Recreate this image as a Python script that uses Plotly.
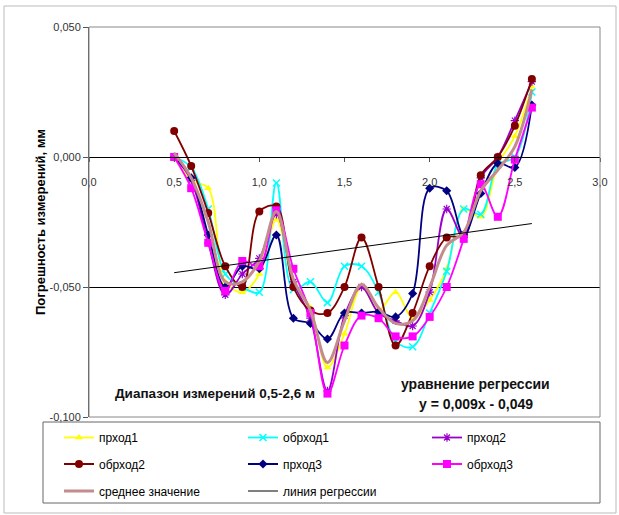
import plotly.graph_objects as go

x_vals = [0.5, 0.6, 0.7, 0.8, 0.9, 1.0, 1.1, 1.2, 1.3, 1.4, 1.5, 1.6, 1.7, 1.8, 1.9, 2.0, 2.1, 2.2, 2.3, 2.4, 2.5, 2.6]

prohod1 = [0.000, -0.009, -0.012, -0.048, -0.052, -0.045, -0.024, -0.048, -0.058, -0.081, -0.068, -0.050, -0.059, -0.052, -0.062, -0.055, -0.043, -0.020, -0.023, -0.003, 0.008, 0.027]
obrhod1 = [0.000, -0.004, -0.020, -0.045, -0.050, -0.052, -0.010, -0.051, -0.048, -0.056, -0.042, -0.042, -0.052, -0.071, -0.073, -0.060, -0.044, -0.020, -0.022, -0.003, 0.000, 0.025]
prohod2 = [0.000, -0.009, -0.033, -0.053, -0.045, -0.039, -0.022, -0.048, -0.062, -0.090, -0.061, -0.050, -0.060, -0.063, -0.065, -0.052, -0.020, -0.031, -0.008, 0.000, 0.014, 0.029]
obrhod2 = [0.010, -0.0035, -0.0215, -0.042, -0.050, -0.021, -0.019, -0.050, -0.059, -0.060, -0.050, -0.031, -0.050, -0.0725, -0.060, -0.042, -0.031, -0.030, -0.007, 0.000, 0.012, 0.030]
prohod3 = [0.000, -0.008, -0.030, -0.050, -0.042, -0.043, -0.030, -0.062, -0.064, -0.070, -0.060, -0.060, -0.0595, -0.0615, -0.0525, -0.012, -0.013, -0.030, -0.014, -0.0025, -0.004, 0.020]
obrhod3 = [0.000, -0.012, -0.033, -0.0515, -0.040, -0.042, -0.0205, -0.043, -0.060, -0.091, -0.0725, -0.061, -0.062, -0.069, -0.069, -0.0615, -0.050, -0.0315, -0.0105, -0.023, -0.001, 0.019]
average = [0.0015, -0.008, -0.025, -0.048, -0.048, -0.040, -0.021, -0.047, -0.059, -0.079, -0.063, -0.049, -0.058, -0.064, -0.063, -0.050, -0.034, -0.029, -0.013, -0.005, 0.004, 0.026]

reg_x = [0.5, 2.6]
reg_y = [-0.0445, -0.0256]

series_names = ["прход1", "обрход1", "прход2", "обрход2", "прход3", "обрход3", "среднее значение", "линия регрессии"]

x_ticks = [0, 0.5, 1.0, 1.5, 2.0, 2.5, 3.0]
x_ticklabels = ["0,0", "0,5", "1,0", "1,5", "2,0", "2,5", "3,0"]
y_ticks = [-0.1, -0.05, 0.0, 0.05]
y_ticklabels = ["-0,100", "-0,050", "0,000", "0,050"]

y_title = "Погрешность измерений, мм"
note_range = "Диапазон измерений 0,5-2,6 м"
note_reg1 = "уравнение регрессии"
note_reg2 = "y = 0,009x - 0,049"

FONT = "Liberation Sans, Arial, sans-serif"

W, H = 619, 515
L, R, T, B = 89, 19, 27, 98
PW, PH = W - L - R, H - T - B


def px_x(p):
    return (p - L) / PW


def px_y(p):
    return (H - B - p) / PH


fig = go.Figure()

styles = [
    ("#FFFF00", dict(symbol="triangle-up", size=7, color="#FFFF00")),
    ("#00FFFF", dict(symbol="x-thin-open", size=7, color="#00FFFF", line=dict(color="#00FFFF", width=1.5))),
    ("#9900CC", dict(symbol="asterisk-open", size=7, color="#9900CC", line=dict(color="#9900CC", width=1.2))),
    ("#800000", dict(symbol="circle", size=8, color="#800000")),
    ("#000080", dict(symbol="diamond", size=7, color="#000080")),
    ("#FF00FF", dict(symbol="square", size=8, color="#FF00FF")),
]
series_vals = [prohod1, obrhod1, prohod2, obrhod2, prohod3, obrhod3]

# legend slot for each entry: (left pixel of line sample, row centre pixel)
col_px = [64, 248, 432]
row_px = [437.5, 464, 491]
slots = [(c, r) for r in row_px for c in col_px]
legend_ids = ["legend"] + ["legend%d" % (i + 2) for i in range(7)]

for i, (vals, (col, mk), name) in enumerate(zip(series_vals, styles, series_names[:6])):
    fig.add_trace(go.Scatter(
        x=x_vals, y=vals, name=name, mode="lines+markers",
        line=dict(color=col, width=1.8, shape="spline", smoothing=1.0),
        marker=mk, legend=legend_ids[i],
    ))

fig.add_trace(go.Scatter(
    x=x_vals, y=average, name=series_names[6], mode="lines",
    line=dict(color="#C48C8C", width=3, shape="spline", smoothing=1.0),
    legend=legend_ids[6],
))
fig.add_trace(go.Scatter(
    x=reg_x, y=reg_y, name=series_names[7], mode="lines",
    line=dict(color="#000000", width=1), legend=legend_ids[7],
))

legend_layout = {}
for lid, (cx, cy) in zip(legend_ids, slots):
    legend_layout[lid] = dict(
        x=px_x(cx - 5), xanchor="left", y=px_y(cy), yanchor="middle",
        orientation="v", font=dict(family=FONT, size=12, color="#000000"),
        bgcolor="rgba(0,0,0,0)", borderwidth=0,
    )

fig.update_layout(
    width=W, height=H,
    margin=dict(l=L, r=R, t=T, b=B, autoexpand=False),
    paper_bgcolor="white", plot_bgcolor="white",
    font=dict(family=FONT, size=11, color="#222222"),
    showlegend=True,
    xaxis=dict(
        range=[0, 3], tickvals=x_ticks, ticktext=x_ticklabels,
        anchor="free", position=2/3,
        showline=True, linecolor="#000000", linewidth=1,
        ticks="outside", ticklen=4, tickcolor="#555555",
        showgrid=False, zeroline=False, ticklabelstandoff=11,
        tickfont=dict(family=FONT, size=11, color="#333333"),
    ),
    yaxis=dict(
        range=[-0.1, 0.05], tickvals=y_ticks, ticktext=y_ticklabels,
        showline=True, linecolor="#555555", linewidth=1,
        ticks="outside", ticklen=5, tickcolor="#555555",
        showgrid=True, gridcolor="#000000", gridwidth=1, zeroline=False,
        tickfont=dict(family=FONT, size=11, color="#333333"),
        title=dict(text=y_title, font=dict(family=FONT, size=13, color="#000000", weight="bold"), standoff=1),
    ),
    shapes=[
        dict(type="rect", xref="paper", yref="paper", x0=0, x1=1, y0=0, y1=1,
             line=dict(color="#888888", width=1), layer="above"),
        dict(type="rect", xref="paper", yref="paper", x0=px_x(43), x1=px_x(600),
             y0=px_y(503), y1=px_y(422),
             line=dict(color="#666666", width=1), layer="above"),
        dict(type="rect", xref="paper", yref="paper", x0=px_x(4), x1=px_x(616),
             y0=px_y(513), y1=px_y(6),
             line=dict(color="#BBBBBB", width=1), layer="below"),
    ],
    annotations=[
        dict(x=0.738, y=-0.0908, xref="x", yref="y", text="<b>" + note_range + "</b>",
             showarrow=False, font=dict(family=FONT, size=13.5, color="#111111")),
        dict(x=2.268, y=-0.0873, xref="x", yref="y", text="<b>" + note_reg1 + "</b>",
             showarrow=False, font=dict(family=FONT, size=14, color="#111111")),
        dict(x=2.271, y=-0.0950, xref="x", yref="y", text="<b>" + note_reg2 + "</b>",
             showarrow=False, font=dict(family=FONT, size=14, color="#111111")),
    ],
    **legend_layout,
)

fig.write_html("out.html")
